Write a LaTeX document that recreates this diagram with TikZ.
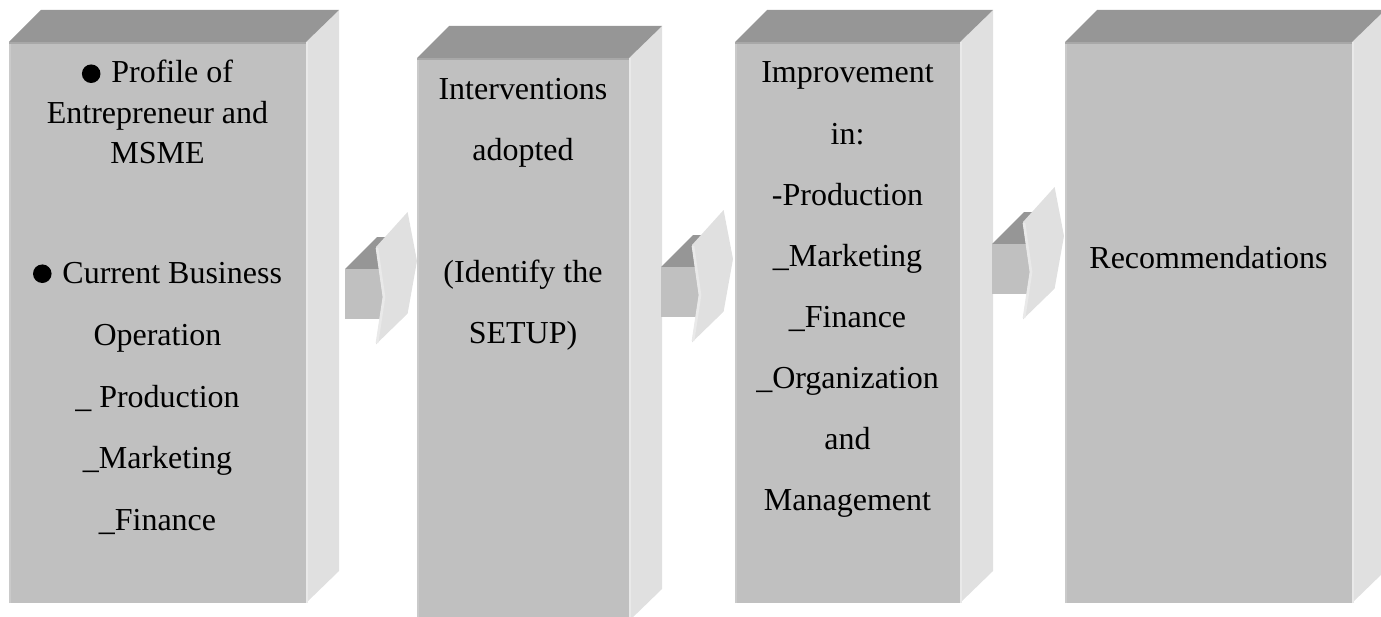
\documentclass[tikz,border=0pt]{standalone}
\usepackage{fontspec}
\setmainfont{Liberation Serif}
\usepackage{tikz}
\usepackage{xcolor}

\definecolor{facegray}{HTML}{C0C0C0}
\definecolor{topgray}{HTML}{969696}
\definecolor{sidegray}{HTML}{E0E0E0}
\definecolor{rimgray}{HTML}{CACACA}
\definecolor{bevelgray}{HTML}{A8A8A8}
\definecolor{sheengray}{HTML}{E9E9E9}

\tikzset{
  lbl/.style={anchor=base, inner sep=0pt, font=\fontsize{24}{29}\selectfont},
}

% round bullet sitting on the baseline
\newcommand{\bdot}{\tikz[baseline=0pt]\fill (0.29em,0.29em) circle (0.29em);\hspace{0.34em}}

% a 3d slab: left, top, right, bottom of the front face
\newcommand{\slab}[4]{%
  \fill[sidegray] (#3,#2) -- (#3+33,#2-32) -- (#3+33,#4-32) -- (#3,#4) -- cycle;
  \fill[topgray] (#1,#2) -- (#1+32,#2-32) -- (#3+33,#2-32) -- (#3,#2) -- cycle;
  \fill[facegray] (#1,#2) rectangle (#3,#4);
  \draw[bevelgray, line width=2pt] (#1,#2+1) -- (#3,#2+1);
  \draw[rimgray, line width=1.5pt] (#1+1,#4) -- (#1+1,#2+2.5);
  \draw[sheengray, line width=1.2pt] (#3+0.8,#2) -- (#3+0.8,#4);
}

% block arrow with a chevron head; #1,#2 = upper notch corner of the head
\newcommand{\chev}[2]{%
  \fill[topgray] (#1-31,#2+22) -- (#1+1,#2-10) -- (#1+9,#2-10) -- (#1+9,#2+22) -- cycle;
  \fill[facegray] (#1-31,#2+22) rectangle (#1+9,#2+72);
  \fill[sidegray] (#1,#2) -- (#1+31.6,#2-35) -- (#1+41,#2+14) -- (#1+31.6,#2+66.6)
    -- (#1,#2+97.3) -- (#1+7,#2+50) -- cycle;
  \draw[sheengray, line width=2pt] (#1+1,#2+1) -- (#1+8,#2+50) -- (#1+1,#2+96);
}

\begin{document}
\begin{tikzpicture}[x={(0.75pt,0)}, y={(0,-0.75pt)}]
\clip (0,0) rectangle (1381,617);

\slab{9}{42}{306}{603}
\slab{417}{58}{629}{621}
\slab{735}{42}{960}{603}
\slab{1065}{42}{1352}{603}

\chev{376}{247}
\chev{692}{245}
\chev{1023}{222}

% texts, one node per line
\foreach \t/\y [count=\i] in {{\bdot Profile of}/83, {Entrepreneur and}/123, MSME/163,
    {\bdot Current Business}/283, Operation/345, {\_ Production}/407, \_Marketing/468, \_Finance/530}
  \node[lbl] (prof\i) at (157.5,\y) {\t};
\foreach \t/\y [count=\i] in {Interventions/99, adopted/160, {(Identify the}/282, SETUP)/343}
  \node[lbl] (intv\i) at (523,\y) {\t};
\foreach \t/\y [count=\i] in {Improvement/83, in:/144, -Production/205, \_Marketing/266,
    \_Finance/327, \_Organization/388, and/449, Management/510}
  \node[lbl] (impr\i) at (847.5,\y) {\t};
\node[lbl] (reco) at (1208.5,268) {Recommendations};
\end{tikzpicture}
\end{document}
